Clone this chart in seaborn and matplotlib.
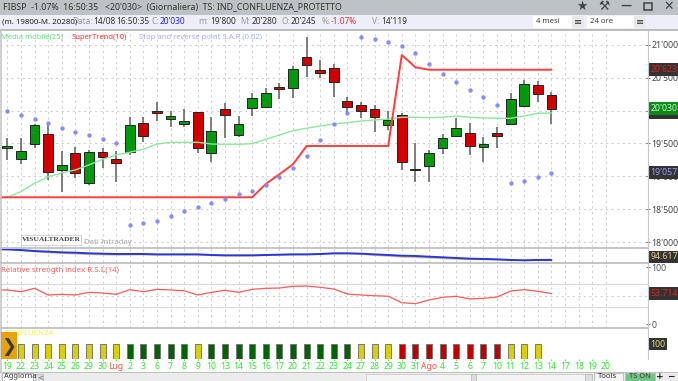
#!/usr/bin/env python3
"""Schermata VisualTrader FIBSP: candele giornaliere con indicatori."""

import matplotlib
matplotlib.use("Agg")
import matplotlib.pyplot as plt
from matplotlib.patches import Rectangle
from matplotlib.ticker import FuncFormatter
import seaborn as sns

W, H = 678, 381

# Dati
date_labels = ["19", "22", "23", "24", "25", "26", "29", "30", "Lug", "2", "3", "6", "7", "8", "9",
               "10", "13", "14", "15", "16", "17", "20", "21", "22", "23", "24", "27", "28", "29",
               "30", "31", "Ago", "4", "5", "6", "7", "10", "11", "12", "13", "14", "17", "18", "19", "20"]

opens = [19431, 19259, 19492, 19645, 19097, 19360, 18903, 19371, 19259, 19366, 19808, 20000, 19869, 19797,
         19980, 19360, 20025, 19629, 20036, 20060, 20356, 20341, 20822, 20619, 20645, 20143, 20082, 20030,
         19786, 19929, 19116, 19162, 19436, 19619, 19665, 19451, 19665, 19797, 20076, 20391, 20245]
closes = [19462, 19390, 19782, 19071, 19173, 19046, 19371, 19290, 19199, 19782, 19614, 19969, 19923, 19835,
          19436, 19690, 19934, 19792, 20188, 20265, 20335, 20630, 20695, 20578, 20441, 20060, 20000, 19899,
          19858, 19214, 19092, 19360, 19579, 19732, 19462, 19492, 19614, 20182, 20406, 20249, 20030]
highs = [19579, 19579, 19797, 19827, 19390, 19451, 19401, 19431, 19390, 19899, 19899, 20137, 20000, 20021,
         19980, 19908, 20112, 19919, 20274, 20341, 20417, 20680, 21117, 20772, 20711, 20213, 20137, 20086,
         20000, 19965, 19512, 19401, 19645, 19888, 19817, 19594, 19747, 20274, 20467, 20456, 20280]
lows = [19249, 19188, 19431, 18944, 18766, 18979, 18868, 19127, 18909, 19325, 19527, 19847, 19756, 19756,
        19360, 19223, 19579, 19594, 19919, 20051, 20182, 20188, 20517, 20493, 20213, 19980, 19884, 19680,
        19706, 19097, 18909, 18918, 19340, 19614, 19325, 19223, 19427, 19789, 20076, 20127, 19800]

# le linee partono dalla seduta prima del bordo sinistro
x_linee = list(range(-1, 41))
media_mobile = [18655, 18681, 18766, 18894, 18994, 19051, 19097, 19173, 19259, 19325, 19366, 19412, 19492, 19518,
                19518, 19518, 19492, 19488, 19488, 19497, 19564, 19629, 19695, 19732, 19767, 19797, 19817,
                19843, 19858, 19873, 19899, 19899, 19893, 19899, 19919, 19899, 19888, 19884, 19884, 19919,
                19960, 19965]
supertrend = [18681] * 20 + [18883, 19031, 19183] + [19462] * 7 + [20848, 20660] + [20623] * 10

sar_alto_x = list(range(0, 9))
sar_alto = [20000, 19939, 19869, 19808, 19736, 19680, 19629, 19569, 19512]
sar_basso_x = list(range(9, 26))
sar_basso = [18259, 18294, 18324, 18401, 18468, 18533, 18599, 18655, 18727, 18781, 18864, 18985, 19127,
             19305, 19553, 19797, 19960]
sar_alto2_x = list(range(26, 37))
sar_alto2 = [21117, 21091, 21041, 20985, 20874, 20706, 20563, 20432, 20310, 20204, 20091]
sar_basso2_x = [37, 38, 39, 40]
sar_basso2 = [18899, 18929, 18985, 19057]

osc_blu = [108.3, 108.1, 107.1, 105.7, 104.8, 103.8, 103.3, 102.4, 101.9, 101.4, 101.4, 101.4, 100.9, 100.9, 100.9,
           100.9, 100.0, 99.5, 99.5, 99.5, 100.0, 100.5, 100.9, 100.9, 101.4, 102.4, 102.4, 101.9, 100.9,
           100.0, 99.0, 98.6, 97.6, 96.7, 95.7, 94.8, 94.3, 93.8, 92.9, 92.4, 92.9, 92.9]
osc_sabbia = [108.0, 107.8, 106.6, 104.9, 103.6, 102.5, 101.9, 101.0, 100.6, 100.2, 100.4, 100.6, 100.3, 100.5, 100.5,
              100.4, 99.6, 99.1, 99.2, 99.2, 99.6, 100.1, 100.5, 100.7, 101.2, 102.0, 102.1, 101.2, 99.8,
              98.6, 97.4, 96.8, 95.9, 95.1, 94.4, 93.9, 93.7, 93.4, 92.7, 92.6, 93.3, 93.5]

rsi = [60.0, 59.9, 56.9, 62.8, 51.1, 52.3, 51.1, 55.8, 54.6, 52.3, 60.4, 56.9, 61.0, 59.9, 58.6, 51.1, 55.8, 59.3,
       55.8, 61.0, 62.8, 63.3, 66.3, 66.8, 64.6, 61.6, 52.9, 51.1, 49.9, 48.9, 37.7, 36.0, 42.4, 47.1, 48.9,
       44.2, 45.4, 47.6, 58.1, 60.4, 57.6, 53.7]

confluenza = ["y"] * 9 + ["d"] * 5 + ["y"] + ["d"] * 11 + ["y"] * 3 + ["r"] * 8 + ["y"] * 3
confluenza_val = [100] * len(confluenza)

colori_conf = {"y": "#d8d000", "d": "#006400", "r": "#c00000"}
VERDE = "#009a0c"
ROSSO = "#d00000"
VERDE_MM = "#8fe6a0"
ROSSO_ST = "#ff3d3d"
BLU_SAR = "#8a8cf0"
GRIGIO = "#c4c6c6"
NOTO = "Noto Sans"

sns.set_style("white")
plt.rcParams["font.family"] = ["DejaVu Sans"]
plt.rcParams["font.size"] = 6.5

fig = plt.figure(figsize=(W / 100, H / 100), dpi=100, facecolor="white")


def pannello(top, bottom, right=648):
    return fig.add_axes([0, 1 - bottom / H, right / W, (bottom - top) / H])


x_all = list(range(41))
xmin, xmax = -0.537, 47.1

ax = pannello(30, 247)
ax_osc = pannello(248, 262)
ax_rsi = pannello(263, 328)
ax_bar = pannello(328, 359)

griglia = dict(color="#d0d0d0", ls=(0, (2, 3)), lw=0.8)
for a in (ax, ax_osc, ax_rsi, ax_bar):
    a.set_xticks(range(len(date_labels)))
    a.set_xticklabels([])
    a.set_axisbelow(True)
    a.tick_params(axis="x", length=0)
    sns.despine(ax=a, left=True, top=True, right=True, bottom=True)
    if a is not ax_bar:
        a.xaxis.grid(True, **griglia)

# Pannello prezzi
ax.set_ylim(17924, 21228)
ax.set_yticks(range(18000, 21001, 500))
ax.yaxis.tick_right()
ax.yaxis.set_major_formatter(FuncFormatter(lambda v, _: f"{int(v):,}".replace(",", "'")))
ax.tick_params(axis="y", length=3, width=0.8, color="#777777", labelcolor="#444444", labelsize=6.3, pad=1,
               right=True, direction="inout")
for lab in ax.get_yticklabels():
    lab.set_family(NOTO)
ax.yaxis.grid(True, **griglia)

ax.vlines(x_all, lows, highs, color="#6a6a6a", lw=1.2, zorder=2)
colori = [VERDE if c >= o else ROSSO for o, c in zip(opens, closes)]
ax.bar(x_all, [abs(c - o) for o, c in zip(opens, closes)], bottom=[min(o, c) for o, c in zip(opens, closes)],
       width=0.72, color=colori, edgecolor="#222222", linewidth=0.7, zorder=3)

sns.lineplot(x=x_linee, y=media_mobile, ax=ax, color=VERDE_MM, lw=1.0, zorder=4, errorbar=None)
sns.lineplot(x=x_linee, y=supertrend, ax=ax, color=ROSSO_ST, lw=1.4, zorder=5, errorbar=None)
for sx, sy in [(sar_alto_x, sar_alto), (sar_basso_x, sar_basso), (sar_alto2_x, sar_alto2),
               (sar_basso2_x, sar_basso2)]:
    sns.scatterplot(x=sx, y=sy, ax=ax, color=BLU_SAR, s=10, linewidth=0, zorder=6)
ax.set_ylabel("")


def etichetta(a, y, testo, colore, sfondo="#333333", x=1.004):
    a.text(x, y, testo, transform=a.get_yaxis_transform(), color=colore, fontsize=6.3, family=NOTO, va="center",
           ha="left", clip_on=False, zorder=20,
           bbox=dict(boxstyle="square,pad=0.2", facecolor=sfondo, edgecolor="none"))


etichetta(ax, media_mobile[-1], "19'965", "#55bb66")
etichetta(ax, closes[-1], "20'030", "#c8ffc8", sfondo="#0f8a1a")
etichetta(ax, supertrend[-1], "20'623", "#e02020")
etichetta(ax, sar_basso2[-1], "19'057", "#9a9cff")

# Oscillatore
ax_osc.set_ylim(90, 110)
ax_osc.set_yticks([])
sns.lineplot(x=x_linee, y=osc_sabbia, ax=ax_osc, color="#d9c48c", lw=1.2, errorbar=None)
sns.lineplot(x=x_linee, y=osc_blu, ax=ax_osc, color="#2a35e0", lw=1.4, errorbar=None)
ax_osc.set_ylabel("")
etichetta(ax_osc, 97.2, "94.617", "#e8cf8a")

# RSI
ax_rsi.set_ylim(-6.5, 107)
ax_rsi.set_yticks([0, 100])
ax_rsi.yaxis.tick_right()
ax_rsi.tick_params(axis="y", length=3, width=0.8, color="#777777", labelcolor="#555555", labelsize=6.3, pad=1,
                   right=True, direction="inout")
for lab in ax_rsi.get_yticklabels():
    lab.set_family(NOTO)
ax_rsi.hlines([30, 70], xmin, xmax, color="#dddddd", lw=1.0, zorder=1)
ax_rsi.hlines(50, xmin, xmax, color=griglia["color"], ls=griglia["ls"], lw=griglia["lw"], zorder=1)
sns.lineplot(x=x_linee, y=rsi, ax=ax_rsi, color="#ff5a5a", lw=0.9, errorbar=None)
ax_rsi.set_ylabel("")
etichetta(ax_rsi, rsi[-1], "53.714", "#e02020")

# Barre confluenza
ax_bar.set_ylim(-2, 209)
ax_bar.set_yticks([])
ax_bar.bar(range(len(confluenza)), confluenza_val, width=0.44, color=[colori_conf[c] for c in confluenza],
           edgecolor="#777777", linewidth=0.7, zorder=3)
ax_bar.text(0.006, 170, "CONFLUENZA", color="#f2ee50", fontsize=5.6, family=NOTO, va="center", ha="left",
            transform=ax_bar.get_yaxis_transform(), zorder=2)
etichetta(ax_bar, 100, "100", "#e8e070")

ax_bar.set_xticklabels(date_labels, fontsize=6.2, family=NOTO)
ax_bar.tick_params(axis="x", length=2, width=0.8, pad=0.3, bottom=True, color="#55ee55", labelcolor="#44e044")
for tick_label, tick in zip(ax_bar.get_xticklabels(), ax_bar.xaxis.get_major_ticks()):
    tick_label.set_bbox(dict(boxstyle="square,pad=0.1", facecolor="#f5fbf5", edgecolor="none"))
    if tick_label.get_text() in ("Lug", "Ago"):
        tick_label.set_color("#ff5555")
        tick.tick1line.set_color("#ff5555")

for a in (ax, ax_osc, ax_rsi, ax_bar):
    a.set_xlim(xmin, xmax)

# Interfaccia della finestra, in pixel
ui = fig.add_axes([0, 0, 1, 1], facecolor="none", zorder=10)
ui.set_xlim(0, W)
ui.set_ylim(H, 0)
ui.axis("off")


def rett(x, y, w, h, colore, bordo="none", lw=0.6, z=1):
    ui.add_patch(Rectangle((x, y), w, h, facecolor=colore, edgecolor=bordo, lw=lw, zorder=z))


def scritta(x, y, testo, colore="#333333", size=6.5, **kw):
    kw.setdefault("va", "center")
    kw.setdefault("ha", "left")
    ui.text(x, y, testo, color=colore, fontsize=size, zorder=8, **kw)


rett(0, 0, W, 14.5, "#bcc3c5")
rett(0, 14.5, W, 14, "#eeeef8")
rett(0, 28.5, W, 2, "#b9bdbe")
rett(0, 372.5, W, 8.5, "#ececec")
rett(0, 372, W, 1, "#c0c0c0")
for y in (247.5, 262.7, 328.3):
    ui.plot([0, 648], [y, y], color=GRIGIO, lw=1.4, zorder=2)
ui.plot([648, 648], [30, 359], color="#c8c8c8", lw=0.8, zorder=2)
ui.plot([0.5, 0.5], [30, 372], color="#c8c8c8", lw=1.2, zorder=2)

scritta(3, 7, "FIBSP  -1.07%  16:50:35   <20'030>  (Giornaliera)  TS: IND_CONFLUENZA_PROTETTO",
        size=6.35, family=NOTO)
scritta(582, 6, "★", "#3c4446", size=9, ha="center")
scritta(604, 6, "⚒", "#3c4446", size=9, ha="center")
scritta(626, 6, "—", "#3c4446", size=8, ha="center", fontweight="bold")
rett(644, 2.5, 8, 7.5, "none", bordo="#3c4446", lw=1.1, z=3)
scritta(669, 6, "✕", "#3c4446", size=9, ha="center")

scritta(2, 22, "(m. 19800-M. 20280)", "#222222", size=5.7, family=NOTO)
for x, testo, colore in [(72, "Data:", "#999999"), (93, "14/08", "#333333"), (116, "16:50:35", "#333333"),
                         (151, "C:", "#999999"), (160, "20'030", "#2222dd"), (198, "m:", "#999999"),
                         (210, "19'800", "#333333"), (240, "M:", "#999999"), (252, "20'280", "#333333"),
                         (281, "O:", "#999999"), (291, "20'245", "#333333"), (322, "%:", "#999999"),
                         (331, "-1.07%", "#dd3333"), (372, "V:", "#999999"), (381, "14'119", "#333333")]:
    scritta(x, 22, testo, colore, size=6, family=NOTO)

for x0, x1, testo in [(533, 572, "4 mesi"), (587, 634, "24 ore")]:
    rett(x0, 15.5, x1 - x0, 12, "white", z=2)
    rett(x1, 15.5, 12, 12, "#e8e8e8", z=2)
    scritta(x0 + 3, 21.5, testo, "#444444", size=5.6, family=NOTO)
    scritta(x1 + 6, 21.5, "≡", "#333333", size=7, ha="center")

scritta(1, 37.5, "Media mobile(25)", "#66dd88", size=5.5, family=NOTO)
scritta(72, 37.5, "SuperTrend(10)", "#ff3333", size=5.5, family=NOTO)
scritta(139, 37.5, "Stop and reverse point S.A.R.(0.02)", "#a8acf5", size=5.5, family=NOTO)

rett(21, 234.5, 60, 10, "white", bordo="#cccccc", z=3)
scritta(51, 239.5, "VISUALTRADER", "#444444", size=5.4, family="Liberation Serif", fontweight="bold", ha="center")
scritta(84.5, 242.5, "Dati Intraday", "#aaaaaa", size=5.6, family=NOTO)
scritta(1, 270, "Relative strength index R.S.I.(14)", "#ff5a5a", size=5.6, family=NOTO)

rett(1, 332, 16, 27, "#e6a30c", z=6)
scritta(9, 347, "❯", "#3a3a3a", size=13, ha="center", fontweight="bold")

rett(2, 373, 31, 8, "white", bordo="#aaaaaa", z=3)
scritta(3.5, 377, "Aggiorna", "#333333", size=5.4, family=NOTO)
rett(35, 373.5, 8, 7, "#dddddd", bordo="#bbbbbb", z=3)
scritta(37, 377, "<", "#666666", size=5.4)
rett(366, 374, 219, 7, "#f4f4f4", bordo="#cccccc", z=3)
rett(471, 374, 5, 7, "#dddddd", bordo="#bbbbbb", z=3)
rett(585, 374, 7, 7, "#dddddd", bordo="#bbbbbb", z=3)
rett(594, 373, 29, 8, "#f4f4f4", bordo="#bbbbbb", z=3)
scritta(608, 377, "Tools", "#333333", size=5.6, family=NOTO, ha="center")
rett(625, 373, 30, 8, "#74c48a", bordo="#bbbbbb", z=3)
scritta(640, 377, "TS ON", "#224422", size=5.4, family=NOTO, ha="center", fontweight="bold")
scritta(660, 376.5, "+", "#222222", size=6.5, ha="center", fontweight="bold")
scritta(671, 376.5, "−", "#222222", size=6.5, ha="center", fontweight="bold")

fig.savefig("out.png", dpi=100)
plt.close(fig)
